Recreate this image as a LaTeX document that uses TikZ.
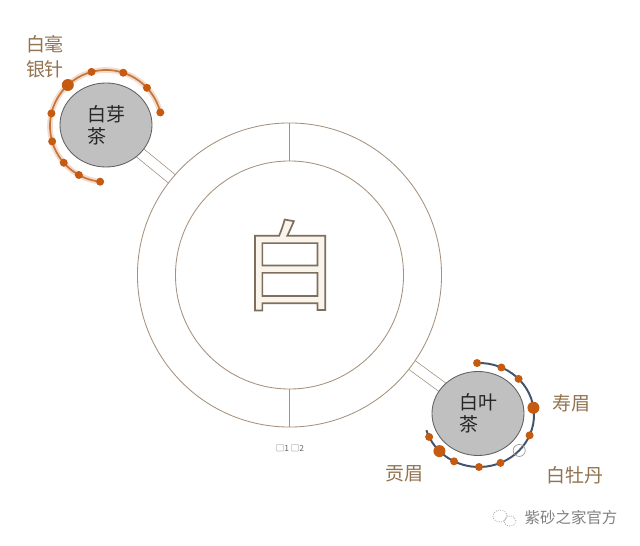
\documentclass[tikz,border=0pt]{standalone}
\usepackage{fontspec}
\setmainfont{Noto Sans CJK SC}
\usetikzlibrary{shapes.geometric, backgrounds}

\definecolor{ringline}{RGB}{165,145,125}
\definecolor{teagray}{RGB}{192,192,192}
\definecolor{teaedge}{RGB}{95,95,95}
\definecolor{dotbrown}{RGB}{197,90,17}
\definecolor{arcorange}{RGB}{200,115,55}
\definecolor{arcslate}{RGB}{68,84,106}
\definecolor{labeltan}{RGB}{145,115,80}
\definecolor{charfill}{RGB}{249,245,236}

% outlined glyph: fill, then stroke in grey-brown
\newcommand{\outlined}[1]{\special{pdf:literal direct q 2 Tr 1.2 w 0.49 0.43 0.37 RG}#1\special{pdf:literal direct Q}}

\begin{document}
\begin{tikzpicture}[x=0.025cm, y=0.025cm,
    ring/.style={circle, draw=ringline, line width=0.6pt, fill=white, inner sep=0pt},
    tea/.style={ellipse, draw=teaedge, line width=0.6pt, fill=teagray, minimum width=2.3cm, minimum height=2.1cm, align=left, font=\fontsize{13.5}{15.5}\selectfont, text=black!85},
    bar/.style={draw=ringline!80!gray, line width=0.5pt, double=white, double distance=0.25cm},
    kind/.style={text=labeltan, align=left, font=\fontsize{13.5}{17.5}\selectfont},
    dot/.style={fill=dotbrown},
    arcA/.style={draw=arcorange, line width=1.2pt},
    arcB/.style={draw=arcslate, line width=1.4pt}
]
\useasboundingbox (0,0) rectangle (640,546);

% the ring
\node[ring, minimum size=7.6cm] (outer) at (289.5,271) {};
\node[ring, minimum size=5.7cm] (inner) at (289.5,271) {};
\draw[ringline, line width=0.6pt] (inner.north) -- (outer.north);
\draw[ringline, line width=0.6pt] (inner.south) -- (outer.south);
\node[text=charfill, font=\fontsize{70}{70}\selectfont] (bai) at (290,281) {\outlined{白}};
\node[font=\fontsize{6}{6}\selectfont, text=black!60] (legend) at (290,98) {□1 □2};

% the two kinds of tea
\node[tea] (yacha) at (106,421) {白芽\\茶};
\node[tea] (yecha) at (478,132.5) {白叶\\茶};
\begin{scope}[on background layer]
\draw[bar] (outer.center) -- (yacha.center);
\draw[bar] (outer.center) -- (yecha.center);
\end{scope}

% arc round the bud tea
\begin{scope}[shift={(106,420)}]
\draw[arcorange, line width=4pt, opacity=0.25] (14:56) arc[start angle=14, end angle=264, radius=56];
\draw[arcA] (14:56) arc[start angle=14, end angle=264, radius=56];
\foreach \a in {14,43,72,105,167,196,221,241,264}
    \fill[dot] (\a:56) circle[radius=4];
\fill[dot] (133:56) circle[radius=6];
\end{scope}

% arc round the leaf tea
\begin{scope}[shift={(479,131)}]
\draw[arcB] (92:55 and 52) arc[start angle=92, end angle=-163, x radius=55, y radius=52];
\foreach \a in {92,66,44,-23,-67,-90,-117,-155}
    \fill[dot] (\a:55 and 52) circle[radius=4];
\fill[dot] (8:55 and 52) circle[radius=6];
\fill[dot] (-136:55 and 52) circle[radius=6];
\draw[gray!80, line width=0.5pt] (-43:55 and 52) circle[radius=6];
\end{scope}

% labels
\node[kind] (baihao) at (45,489) {白毫\\银针};
\node[kind] (shoumei) at (571,143) {寿眉};
\node[kind] (mudan) at (575,71) {白牡丹};
\node[kind] (gongmei) at (404,72) {贡眉};

% watermark
\node[text=black!50, font=\fontsize{11}{11}\selectfont] (mark) at (571,28) {紫砂之家官方};
\draw[black!35, densely dotted, line width=0.6pt] (500,30) ellipse[x radius=7, y radius=6];
\draw[black!35, densely dotted, line width=0.6pt] (510,25) ellipse[x radius=6, y radius=5];
\end{tikzpicture}
\end{document}
